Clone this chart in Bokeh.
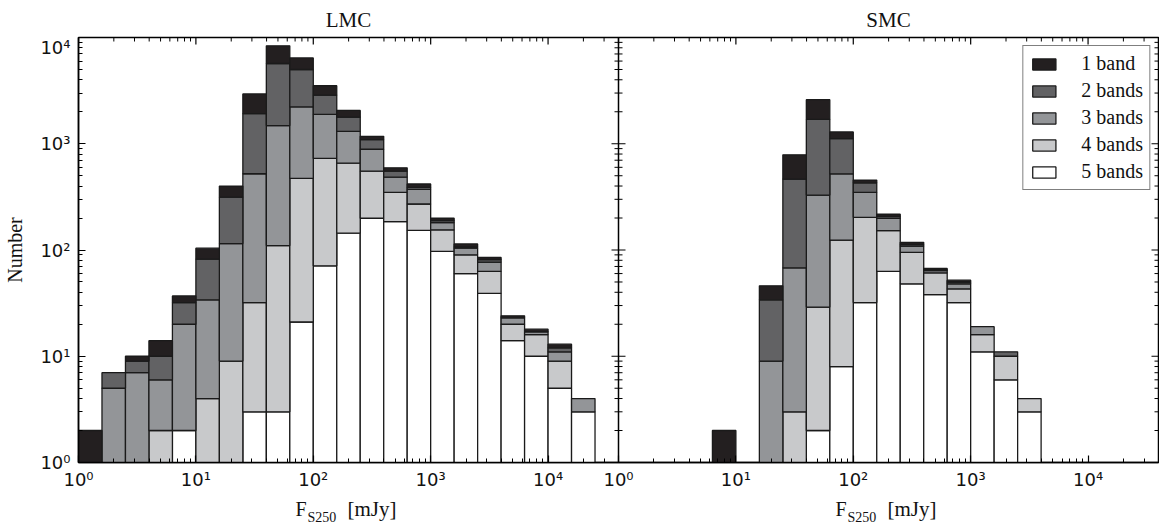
import numpy as np
from bokeh.plotting import figure
from bokeh.layouts import column
from bokeh.core.properties import value
from bokeh.models import (Range1d, FixedTicker, CustomJSTickFormatter, Span,
                          Legend, LegendItem, ColumnDataSource)
from bokeh.embed import file_html
from bokeh.resources import INLINE

# ---------------- data ----------------
# bin edges (log10 of F_S250 in mJy), 0.2 dex bins
lmc_edge_exp = [0.0, 0.2, 0.4, 0.6, 0.8, 1.0, 1.2, 1.4, 1.6, 1.8, 2.0, 2.2,
                2.4, 2.6, 2.8, 3.0, 3.2, 3.4, 3.6, 3.8, 4.0, 4.2, 4.4]
smc_edge_exp = [0.0, 0.2, 0.4, 0.6, 0.8, 1.0, 1.2, 1.4, 1.6, 1.8, 2.0, 2.2,
                2.4, 2.6, 2.8, 3.0, 3.2, 3.4, 3.6]

# number of sources detected in N bands, per bin
lmc_5band = [0, 0, 0, 0, 2, 0, 0, 3, 3, 21, 71, 144, 199, 185, 153, 97, 60, 39, 14, 10, 5, 3]
lmc_4band = [0, 0, 0, 2, 0, 4, 9, 29, 107, 451, 656, 512, 353, 163, 118, 58, 30, 24, 6, 6, 4, 0]
lmc_3band = [0, 5, 7, 4, 18, 30, 106, 490, 1372, 1747, 1166, 654, 336, 137, 101, 26, 14, 14, 3, 1, 2, 1]
lmc_2band = [0, 2, 2, 4, 12, 48, 200, 1400, 4210, 2780, 980, 473, 206, 67, 17, 8, 3, 4, 0, 0, 1, 0]
lmc_1band = [2, 0, 1, 4, 5, 22, 85, 1020, 2650, 1430, 640, 278, 81, 41, 29, 10, 7, 4, 1, 1, 1, 0]

smc_5band = [0, 0, 0, 0, 0, 0, 0, 0, 2, 8, 32, 63, 48, 38, 32, 11, 6, 3]
smc_4band = [0, 0, 0, 0, 0, 0, 0, 3, 27, 116, 171, 89, 47, 23, 11, 5, 4, 1]
smc_3band = [0, 0, 0, 0, 0, 0, 9, 65, 300, 397, 146, 47, 14, 3, 5, 3, 0, 0]
smc_2band = [0, 0, 0, 0, 0, 0, 25, 397, 1370, 598, 80, 8, 4, 1, 2, 0, 1, 0]
smc_1band = [0, 0, 0, 0, 2, 0, 12, 321, 900, 172, 26, 10, 5, 2, 2, 0, 0, 0]

band_labels = ["5 bands", "4 bands", "3 bands", "2 bands", "1 band"]
band_colors = ["#ffffff", "#c8c9cb", "#939598", "#626264", "#231f20"]
panel_titles = ["LMC", "SMC"]
x_tick_exp = [0, 1, 2, 3, 4]
y_tick_exp = [0, 1, 2, 3, 4]
panel_decades = 4.6          # each panel spans 10^0 .. 10^4.6
y_min, y_max = 1.0, 1.0e4

# ---------------- geometry ----------------
W = 1159
BL, BR = 78, 1
FRAME_H = 426
TOP_H = 36          # strip holding the panel titles
MAIN_H = 1 + FRAME_H + 29
BOT_H = 527 - TOP_H - MAIN_H   # strip holding the x-axis labels

panel_max = 10 ** panel_decades
xr = Range1d(1.0, panel_max ** 2)
extra = {"smc": Range1d(1.0 / panel_max, panel_max)}
center = 10 ** (panel_decades / 2)
serif = "Liberation Serif"
ink = "#111111"


def strip(height):
    s = figure(width=W, height=height, x_axis_type="log", x_range=xr,
               y_range=Range1d(0, height), x_axis_location=None, y_axis_location=None,
               min_border_left=BL, min_border_right=BR, min_border_top=0, min_border_bottom=0,
               output_backend="svg", toolbar_location=None)
    s.extra_x_ranges = dict(extra)
    s.outline_line_color = None
    s.grid.visible = False
    s.background_fill_color = "white"
    s.border_fill_color = "white"
    return s


# ---------------- main figure ----------------
p = figure(width=W, height=MAIN_H, x_axis_type="log", y_axis_type="log",
           x_range=xr, y_range=Range1d(y_min, y_max),
           output_backend="svg", toolbar_location=None,
           min_border_left=BL, min_border_right=BR, min_border_top=1,
           min_border_bottom=MAIN_H - 1 - FRAME_H)
p.extra_x_ranges = extra
p.xgrid.visible = False
p.ygrid.visible = False
p.outline_line_color = "black"
p.outline_line_width = 1.5
p.background_fill_color = "white"
p.border_fill_color = "white"


def stacked_sources(edge_exp, bands):
    edges = 10.0 ** np.asarray(edge_exp)
    cum = np.zeros(len(edges) - 1)
    floor = y_min / 10.0
    out = []
    for counts in bands:
        c = np.asarray(counts, dtype=float)
        top = cum + c
        mask = c > 0
        bottom = np.where(cum > 0, cum, floor)
        out.append(ColumnDataSource(dict(left=edges[:-1][mask], right=edges[1:][mask],
                                         bottom=bottom[mask], top=top[mask])))
        cum = top
    return out


lmc_src = stacked_sources(lmc_edge_exp, [lmc_5band, lmc_4band, lmc_3band, lmc_2band, lmc_1band])
smc_src = stacked_sources(smc_edge_exp, [smc_5band, smc_4band, smc_3band, smc_2band, smc_1band])

lmc_r = []
for src, col in zip(lmc_src, band_colors):
    lmc_r.append(p.quad(left="left", right="right", bottom="bottom", top="top", source=src,
                        fill_color=col, line_color="#1a1a1a", line_width=1.3))
for src, col in zip(smc_src, band_colors):
    p.quad(left="left", right="right", bottom="bottom", top="top", source=src,
           fill_color=col, line_color="#1a1a1a", line_width=1.3, x_range_name="smc")

# ---------------- axes ----------------
sup_code = """
const sup = ["\\u2070", "\\u00b9", "\\u00b2", "\\u00b3", "\\u2074", "\\u2075"];
let e = Math.log10(tick);
if (e > shift - 0.05) { e = e - shift; }
return "10" + sup[Math.round(e)];
"""
fmt = CustomJSTickFormatter(args=dict(shift=panel_decades), code=sup_code)

x_major = [10.0 ** e for e in x_tick_exp] + [10.0 ** (e + panel_decades) for e in x_tick_exp]
x_minor = []
for e in x_tick_exp:
    for m in range(2, 10):
        v = m * 10.0 ** e
        if v < panel_max:
            x_minor += [v, v * panel_max]
x_ticker = FixedTicker(ticks=x_major, minor_ticks=x_minor)

y_major = [10.0 ** e for e in y_tick_exp]
y_minor = [m * 10.0 ** e for e in y_tick_exp[:-1] for m in range(2, 10)]
y_ticker = FixedTicker(ticks=y_major, minor_ticks=y_minor)


def style_axis(ax):
    ax.major_tick_in = 7
    ax.major_tick_out = 0
    ax.minor_tick_in = 4
    ax.minor_tick_out = 0
    ax.axis_line_width = 1.5
    ax.axis_line_color = "black"
    ax.major_tick_line_color = "black"
    ax.minor_tick_line_color = "black"
    ax.major_tick_line_width = 1.2
    ax.minor_tick_line_width = 1.0
    ax.major_label_text_font = "DejaVu Sans"
    ax.major_label_text_color = ink
    ax.major_label_text_font_size = "18px"


xb = p.xaxis[0]
xb.ticker = x_ticker
xb.formatter = fmt
style_axis(xb)
xb.major_label_standoff = 6

yl = p.yaxis[0]
yl.ticker = y_ticker
yl.formatter = fmt
style_axis(yl)
yl.major_label_standoff = 8
yl.axis_label = "Number"
yl.axis_label_text_font = serif
yl.axis_label_text_font_style = "normal"
yl.axis_label_text_font_size = "20px"
yl.axis_label_standoff = 11
yl.axis_label_text_color = ink

# panel divider, and inward ticks on the top edge, the divider and the right edge
p.add_layout(Span(location=panel_max, dimension="height", line_color="black", line_width=1.5))
for xpos in [panel_max, panel_max ** 2]:
    p.scatter(x=[xpos] * len(y_major), y=y_major, marker="dash", size=14,
              line_color="black", line_width=1.2)
    p.scatter(x=[xpos] * len(y_minor), y=y_minor, marker="dash", size=8,
              line_color="black", line_width=1.0)
p.scatter(x=x_major, y=[y_max] * len(x_major), marker="dash", angle=np.pi / 2, size=14,
          line_color="black", line_width=1.2)
p.scatter(x=x_minor, y=[y_max] * len(x_minor), marker="dash", angle=np.pi / 2, size=8,
          line_color="black", line_width=1.0)

# ---------------- legend ----------------
items = [LegendItem(label=lab, renderers=[r]) for lab, r in zip(band_labels, lmc_r)][::-1]
legend = Legend(items=items, location="top_right", margin=8, padding=6, spacing=4,
                glyph_width=29, glyph_height=14, label_height=14, label_standoff=23,
                label_text_font=serif, label_text_font_size="20px",
                label_text_color=ink,
                border_line_color="black", border_line_width=1.5,
                background_fill_color="white", background_fill_alpha=1.0)
p.add_layout(legend, "center")

# ---------------- titles (top strip) ----------------
pt = strip(TOP_H)
for title, rng in zip(panel_titles, ["default", "smc"]):
    pt.text(x=[center], y=[17], text=[title], x_range_name=rng,
            text_align="center", text_baseline="middle",
            text_font=value(serif), text_font_size=value("21px"), text_color=ink)

# ---------------- x-axis labels (bottom strip) ----------------
pb = strip(BOT_H)
for rng in ["default", "smc"]:
    pb.text(x=[center], y=[18.5], text=["F"], x_range_name=rng, x_offset=-53,
            text_align="left", text_baseline="middle",
            text_font=value(serif), text_font_size=value("20px"), text_color=ink)
    pb.text(x=[center], y=[10], text=["S250"], x_range_name=rng, x_offset=-41,
            text_align="left", text_baseline="middle",
            text_font=value(serif), text_font_size=value("14px"), text_color=ink)
    pb.text(x=[center], y=[18.5], text=["[mJy]"], x_range_name=rng, x_offset=-1,
            text_align="left", text_baseline="middle",
            text_font=value(serif), text_font_size=value("21px"), text_color=ink)

layout = column(pt, p, pb, spacing=0)
open("out.html", "w").write(file_html(layout, INLINE))
